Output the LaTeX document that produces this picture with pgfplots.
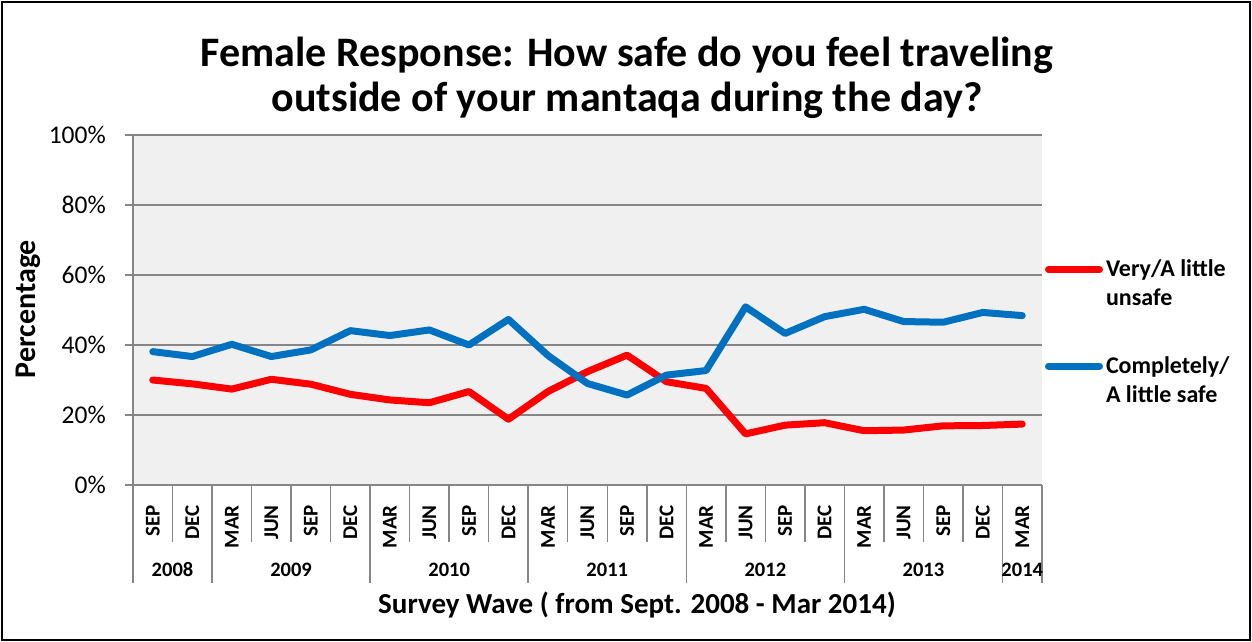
\documentclass[border=0pt]{standalone}
\usepackage{fontspec}
\setmainfont{Carlito}
\usepackage{pgfplots}
\pgfplotsset{compat=1.18}
\usepackage{pgfplotstable}
\definecolor{sred}{RGB}{255,0,0}
\definecolor{sblue}{RGB}{0,112,192}
\definecolor{gridc}{RGB}{134,134,134}
\definecolor{bgc}{RGB}{240,240,240}
\pgfplotstableread{
x unsafe safe
0 30.0 38.1
1 28.9 36.7
2 27.4 40.2
3 30.2 36.7
4 28.8 38.6
5 25.9 44.1
6 24.3 42.7
7 23.5 44.3
8 26.7 40.0
9 18.8 47.3
10 26.7 37.0
11 32.4 29.0
12 37.1 25.7
13 29.5 31.4
14 27.6 32.7
15 14.6 50.9
16 17.1 43.3
17 17.8 48.1
18 15.5 50.2
19 15.7 46.7
20 16.9 46.5
21 17.0 49.3
22 17.4 48.4
}\datatable
\begin{document}
\begin{tikzpicture}[x=1pt,y=1pt]
\useasboundingbox (0,0) rectangle (1252,642);
\fill[white] (0,0) rectangle (1252,642);
\draw[line width=2.5pt] (2,2) rectangle (1250,640);
\node[align=center, font=\bfseries\fontsize{42}{45}\selectfont] at (627,564) {Female Response: How safe do you feel traveling\\outside of your mantaqa during the day?};
\node[rotate=90, font=\bfseries\fontsize{30}{30}\selectfont] at (28,333) {Percentage};
\node[font=\bfseries\fontsize{29}{29}\selectfont] at (637,37) {Survey Wave ( from Sept. 2008 - Mar 2014)};
\begin{axis}[
  at={(133pt,157pt)}, anchor=south west,
  scale only axis, width=909pt, height=350pt,
  xmin=-0.5, xmax=22.5, ymin=0, ymax=100,
  clip=false,
  axis background/.style={fill=bgc},
  axis x line*=bottom, axis y line*=left,
  axis line style={gridc, line width=1.5pt, -},
  ymajorgrids, major grid style={gridc, line width=1.5pt},
  ytick={0,20,...,100},
  yticklabel={\pgfmathprintnumber{\tick}\%},
  /pgf/number format/assume math mode=true,
  tick align=outside, major tick length=8pt,
  ytick style={gridc, line width=1.5pt},
  xtick={0,...,22},
  xticklabels={SEP,DEC,MAR,JUN,SEP,DEC,MAR,JUN,SEP,DEC,MAR,JUN,SEP,DEC,MAR,JUN,SEP,DEC,MAR,JUN,SEP,DEC,MAR},
  xtick style={draw=none},
  y tick label style={font=\fontsize{25.5}{25.5}\selectfont, inner sep=0pt},
  yticklabel shift=19pt,
  x tick label style={rotate=90, anchor=east, font=\bfseries\fontsize{21}{21}\selectfont, inner sep=0pt},
  xticklabel shift=12pt,
  legend style={at={(rel axis cs:1.0033,0.6424)}, anchor=north west, draw=none, fill=none,
    inner sep=0pt, outer sep=0pt, row sep=49pt, column sep=3pt,
    nodes={inner sep=0pt, align=left, font=\bfseries\fontsize{24}{29}\selectfont}},
  legend cell align=left,
  legend image code/.code={\draw[#1, line cap=round] (0pt,14pt) -- (51pt,14pt);},
]
\addplot[sred, line width=7pt, line join=round, line cap=round] table[x=x, y=unsafe] {\datatable};
\addlegendentry{Very/A little\\unsafe}
\addplot[sblue, line width=7pt, line join=round, line cap=round] table[x=x, y=safe] {\datatable};
\addlegendentry{Completely/\\A little safe}
\pgfplotsinvokeforeach{0.5,2.5,3.5,4.5,6.5,7.5,8.5,10.5,11.5,12.5,14.5,15.5,16.5,18.5,19.5,20.5}{
  \draw[gridc, line width=1.5pt] (axis cs:#1,0) -- (axis cs:#1,-16.2);
}
\pgfplotsinvokeforeach{-0.5,1.5,5.5,9.5,13.5,17.5,21.5,22.5}{
  \draw[gridc, line width=1.5pt] (axis cs:#1,0) -- (axis cs:#1,-28);
}
\node[font=\bfseries\fontsize{20.5}{20.5}\selectfont] at (axis cs:0.5,-24.2) {2008};
\node[font=\bfseries\fontsize{20.5}{20.5}\selectfont] at (axis cs:3.5,-24.2) {2009};
\node[font=\bfseries\fontsize{20.5}{20.5}\selectfont] at (axis cs:7.5,-24.2) {2010};
\node[font=\bfseries\fontsize{20.5}{20.5}\selectfont] at (axis cs:11.5,-24.2) {2011};
\node[font=\bfseries\fontsize{20.5}{20.5}\selectfont] at (axis cs:15.5,-24.2) {2012};
\node[font=\bfseries\fontsize{20.5}{20.5}\selectfont] at (axis cs:19.5,-24.2) {2013};
\node[font=\bfseries\fontsize{20.5}{20.5}\selectfont] at (axis cs:22,-24.2) {2014};
\end{axis}
\end{tikzpicture}
\end{document}
